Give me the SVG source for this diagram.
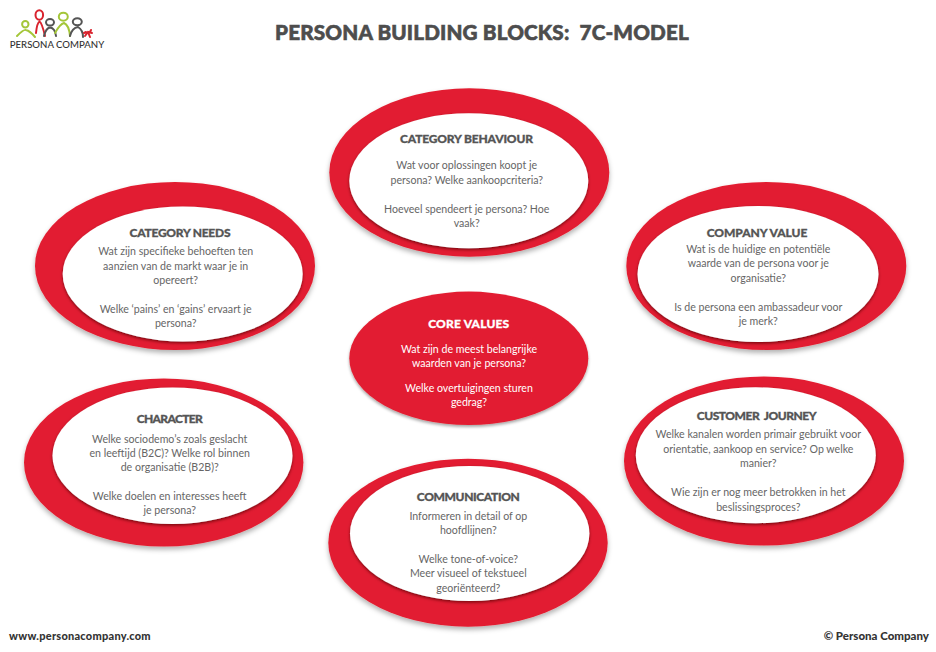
<svg xmlns="http://www.w3.org/2000/svg" width="936" height="652" viewBox="0 0 936 652">
<style>
text{font-family:"Lato","Liberation Sans",sans-serif;text-anchor:middle}
.o{fill:#e21f30;filter:url(#s1)}
.c{fill:#e21f30;filter:url(#s3)}
.i{fill:#fff;filter:url(#s2)}
.h{font-size:12px;font-weight:900;fill:#555;stroke:#555;stroke-width:.3px;white-space:pre}
.b{font-size:10.6px;fill:#666}
.w{fill:#fff;stroke:none}
.hw{fill:#fff;stroke:#fff}
.lg{fill:none;stroke-width:2;stroke-linecap:round}
</style>
<defs>
<filter id="s1" x="-10%" y="-10%" width="120%" height="125%"><feDropShadow dx="0" dy="3" stdDeviation="2.500" flood-color="#000" flood-opacity=".3"/></filter>
<filter id="s2" x="-10%" y="-10%" width="120%" height="125%"><feDropShadow dx="0" dy="1.500" stdDeviation="1.500" flood-color="#500" flood-opacity=".75"/></filter>
<filter id="s3" x="-10%" y="-10%" width="120%" height="125%"><feDropShadow dx="0" dy="2" stdDeviation="1.500" flood-color="#000" flood-opacity=".35"/></filter>
</defs>
<rect width="936" height="652" fill="#fff"/>
<g id="logo">
<circle cx="25.300" cy="24.300" r="3.200" class="lg" stroke="#a4c639"/>
<path class="lg" stroke="#a4c639" d="M17 36Q24 29 26 30Q30 31 35 37"/>
<ellipse cx="39.300" cy="15" rx="3.800" ry="4.700" class="lg" stroke="#d9232e"/>
<path class="lg" stroke="#d9232e" d="M36 33Q37 23 39.500 21.500Q42 23 45 36"/>
<ellipse cx="50" cy="22.300" rx="4" ry="3.300" class="lg" stroke="#555"/>
<path class="lg" stroke="#555" d="M44 36Q46 28 50 27.500Q55 28 56 36"/>
<ellipse cx="63.300" cy="16.700" rx="4.500" ry="4" class="lg" stroke="#a4c639"/>
<path class="lg" stroke="#a4c639" d="M55 33Q60 24 64 23Q69 25 70 36"/>
<ellipse cx="77.300" cy="21.700" rx="4.500" ry="3.500" class="lg" stroke="#555"/>
<path class="lg" stroke="#555" d="M70 36Q72 28 78 27Q83 30 83 37"/>
<path class="lg" stroke="#d9232e" d="M85 36L88 32L92 33M88 32L90 37M86 32L84 33M91 30L90 32"/>
<text x="57" y="48.300" style="font-size:9.600px;font-weight:500;fill:#333">PERSONA COMPANY</text>
</g>
<text id="title" x="482" y="40" style="font-size:20.700px;font-weight:900;fill:#4d4d4d;stroke:#4d4d4d;stroke-width:.6px;letter-spacing:.14px;white-space:pre">PERSONA BUILDING BLOCKS:  7C-MODEL</text>
<g id="connectors"/>
<g id="behaviour">
<ellipse class="o" cx="469.300" cy="172.500" rx="140" ry="84.200"/>
<ellipse class="i" cx="468.800" cy="180.800" rx="119.500" ry="67.500"/>
<text class="h" x="466.500" y="142.700" textLength="133">CATEGORY BEHAVIOUR</text>
<text class="b" x="466.700" y="169.300">Wat voor oplossingen koopt je</text>
<text class="b" x="466.700" y="184">persona? Welke aankoopcriteria?</text>
<text class="b" x="466.700" y="212.700">Hoeveel spendeert je persona? Hoe</text>
<text class="b" x="466.700" y="227.300">vaak?</text>
</g>
<g id="needs">
<ellipse class="o" cx="175" cy="266" rx="140" ry="84"/>
<ellipse class="i" cx="182.700" cy="274" rx="120" ry="67.500"/>
<text class="h" x="180" y="236.700" textLength="101">CATEGORY NEEDS</text>
<text class="b" x="175.700" y="255.300">Wat zijn specifieke behoeften ten</text>
<text class="b" x="175.700" y="270">aanzien van de markt waar je in</text>
<text class="b" x="175.700" y="284">opereert?</text>
<text class="b" x="175.700" y="313">Welke ‘pains’ en ‘gains’ ervaart je</text>
<text class="b" x="175.700" y="327">persona?</text>
</g>
<g id="value">
<ellipse class="o" cx="766.300" cy="266" rx="140" ry="84"/>
<ellipse class="i" cx="758" cy="274" rx="120.500" ry="68"/>
<text class="h" x="757" y="237.300" textLength="100.700">COMPANY VALUE</text>
<text class="b" x="758.300" y="253.300">Wat is de huidige en potentiële</text>
<text class="b" x="758.300" y="267.300">waarde van de persona voor je</text>
<text class="b" x="758.300" y="281.700">organisatie?</text>
<text class="b" x="758.300" y="311">Is de persona een ambassadeur voor</text>
<text class="b" x="758.300" y="325">je merk?</text>
</g>
<g id="core">
<ellipse class="c" cx="468.800" cy="358.300" rx="119.500" ry="66.700"/>
<text class="h hw" x="468.700" y="328.300" textLength="81">CORE VALUES</text>
<text class="b w" x="469" y="352.700">Wat zijn de meest belangrijke</text>
<text class="b w" x="469" y="366.700">waarden van je persona?</text>
<text class="b w" x="469" y="391.700">Welke overtuigingen sturen</text>
<text class="b w" x="469" y="405.700">gedrag?</text>
</g>
<g id="character">
<ellipse class="o" cx="163.700" cy="462.500" rx="139.700" ry="84"/>
<ellipse class="i" cx="172.500" cy="455.700" rx="120" ry="68.300"/>
<text class="h" x="169.700" y="422.700" textLength="66">CHARACTER</text>
<text class="b" x="169.700" y="442.700">Welke sociodemo’s zoals geslacht</text>
<text class="b" x="169.700" y="457.300">en leeftijd (B2C)? Welke rol binnen</text>
<text class="b" x="169.700" y="471.300">de organisatie (B2B)?</text>
<text class="b" x="169.700" y="500.300">Welke doelen en interesses heeft</text>
<text class="b" x="169.700" y="514.300">je persona?</text>
</g>
<g id="communication">
<ellipse class="o" cx="468" cy="542.700" rx="139.700" ry="84"/>
<ellipse class="i" cx="469.700" cy="533.500" rx="119.700" ry="67.500"/>
<text class="h" x="468.300" y="501" textLength="103">COMMUNICATION</text>
<text class="b" x="468.300" y="520">Informeren in detail of op</text>
<text class="b" x="468.300" y="534">hoofdlijnen?</text>
<text class="b" x="468.300" y="563.300">Welke tone-of-voice?</text>
<text class="b" x="468.300" y="577.300">Meer visueel of tekstueel</text>
<text class="b" x="468.300" y="591.700">georiënteerd?</text>
</g>
<g id="journey">
<ellipse class="o" cx="764" cy="461" rx="140" ry="84.500"/>
<ellipse class="i" cx="755.800" cy="455.300" rx="120" ry="68"/>
<text class="h" x="756.700" y="420" textLength="120">CUSTOMER  JOURNEY</text>
<text class="b" x="758.300" y="438.300">Welke kanalen worden primair gebruikt voor</text>
<text class="b" x="758.300" y="453">orientatie, aankoop en service? Op welke</text>
<text class="b" x="758.300" y="467.300">manier?</text>
<text class="b" x="758.300" y="496">Wie zijn er nog meer betrokken in het</text>
<text class="b" x="758.300" y="510.700">beslissingsproces?</text>
</g>
<text id="web" x="80" y="640" style="font-size:11px;font-weight:900;fill:#333;letter-spacing:.25px">www.personacompany.com</text>
<text id="copy" x="876.300" y="640" style="font-size:11.500px;font-weight:900;fill:#333">© Persona Company</text>
</svg>
